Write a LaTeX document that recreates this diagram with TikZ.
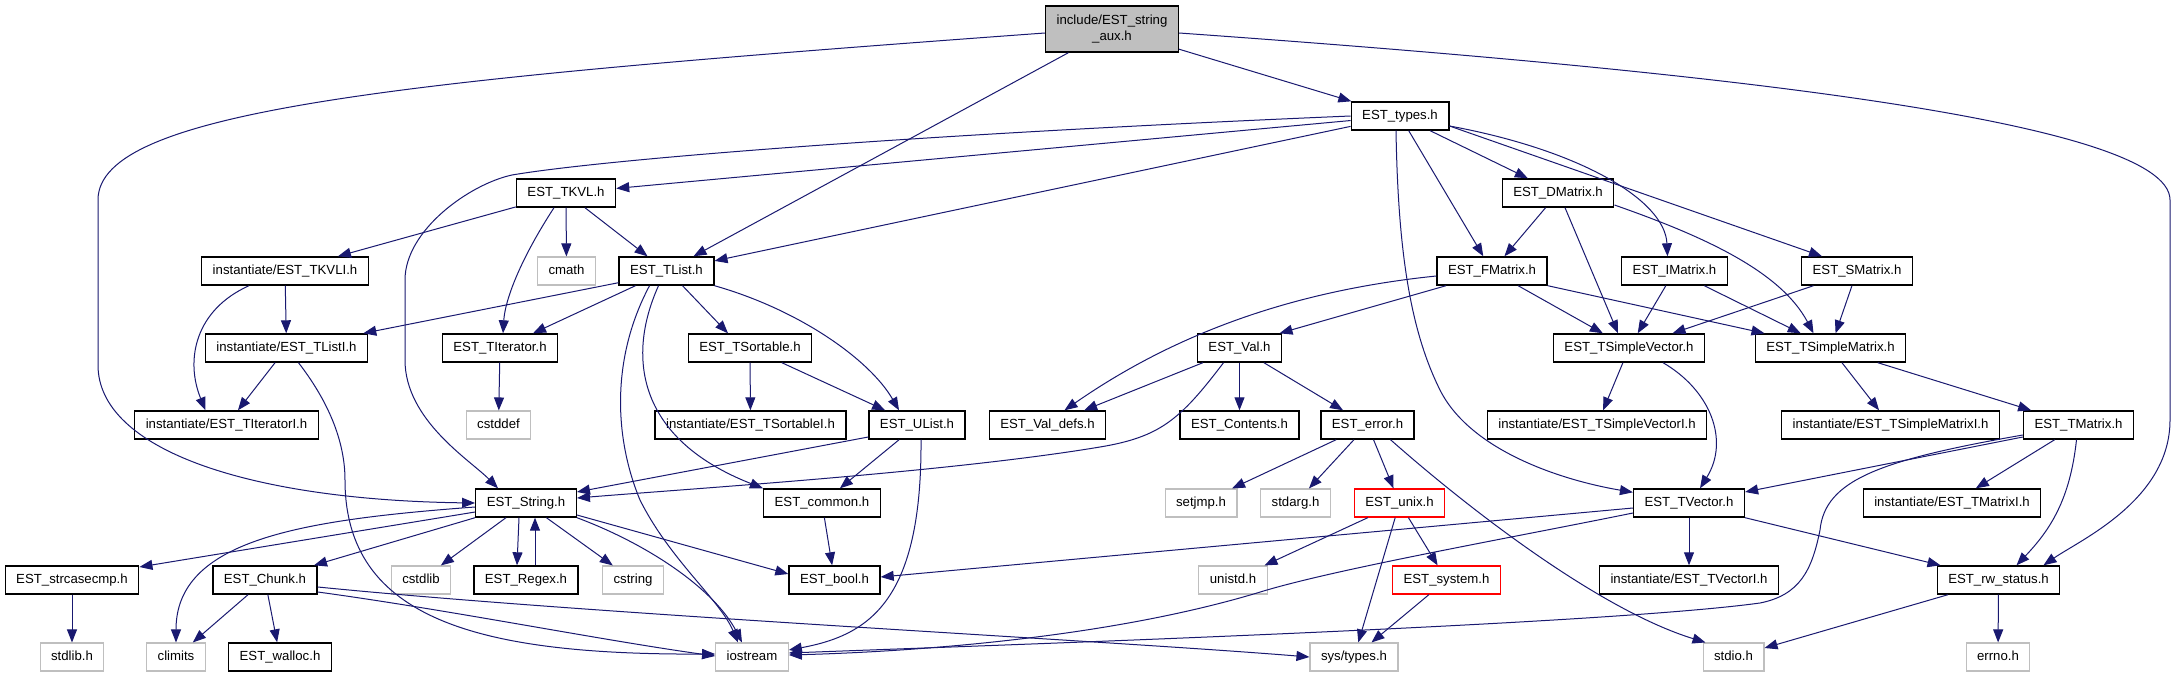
\documentclass[tikz,border=0pt]{standalone}
\usepackage{fontspec}
\setmainfont{Liberation Sans}
\usepackage{xcolor}
\usepackage{tikz}
\usetikzlibrary{positioning, arrows.meta}
\definecolor{edgeblue}{HTML}{191970}
\definecolor{sysgray}{HTML}{BFBFBF}
\definecolor{warnred}{HTML}{FF0000}

\tikzset{
    filebox/.style={draw=black, line width=1.4pt, fill=white,
        inner xsep=11pt, inner ysep=0pt, minimum height=28pt,
        text height=9.6pt, text depth=2.8pt,
        font=\fontsize{13.2}{16}\selectfont},
    sysbox/.style={filebox, draw=sysgray, line width=1.1pt},
    redbox/.style={filebox, draw=warnred, line width=1.2pt},
    rootbox/.style={draw=black, line width=1.4pt, fill=sysgray,
        inner xsep=11pt, minimum height=46pt, align=center,
        font=\fontsize{13.2}{16}\selectfont},
    dep/.style={draw=edgeblue, line width=1pt,
        -{Triangle[length=13pt, width=10pt]}},
}

\begin{document}
\begin{tikzpicture}[x=1pt, y=-1pt]
    \path[use as bounding box, fill=white] (0,0) rectangle (2176,677);

    \node[rootbox] (stringaux) at (1112,29) {include/EST\_string\\\_aux.h};
    \node[filebox] (types) at (1400,116) {EST\_types.h};
    \node[filebox] (tkvl) at (566,193) {EST\_TKVL.h};
    \node[filebox] (dmatrix) at (1558,193) {EST\_DMatrix.h};
    \node[filebox] (tkvli) at (285,271) {instantiate/EST\_TKVLI.h};
    \node[sysbox] (cmath) at (566.5,271) {cmath};
    \node[filebox] (tlist) at (666.5,271) {EST\_TList.h};
    \node[filebox] (fmatrix) at (1492,271) {EST\_FMatrix.h};
    \node[filebox] (imatrix) at (1674.5,271) {EST\_IMatrix.h};
    \node[filebox] (smatrix) at (1857,271) {EST\_SMatrix.h};
    \node[filebox] (tlisti) at (286.5,348) {instantiate/EST\_TListI.h};
    \node[filebox] (titerator) at (500,348) {EST\_TIterator.h};
    \node[filebox] (tsortable) at (750,348) {EST\_TSortable.h};
    \node[filebox] (val) at (1239.5,348) {EST\_Val.h};
    \node[filebox] (tsvector) at (1629,348) {EST\_TSimpleVector.h};
    \node[filebox] (tsmatrix) at (1830.5,348) {EST\_TSimpleMatrix.h};
    \node[filebox] (titeratori) at (226.5,425) {instantiate/EST\_TIteratorI.h};
    \node[sysbox] (cstddef) at (498.5,425) {cstddef};
    \node[filebox] (tsortablei) at (750.5,425) {instantiate/EST\_TSortableI.h};
    \node[filebox] (ulist) at (917,425) {EST\_UList.h};
    \node[filebox] (valdefs) at (1047.5,425) {EST\_Val\_defs.h};
    \node[filebox] (contents) at (1239.5,425) {EST\_Contents.h};
    \node[filebox] (error) at (1367.5,425) {EST\_error.h};
    \node[filebox] (tsvectori) at (1597,425) {instantiate/EST\_TSimpleVectorI.h};
    \node[filebox] (tsmatrixi) at (1890.5,425) {instantiate/EST\_TSimpleMatrixI.h};
    \node[filebox] (tmatrix) at (2078.5,425) {EST\_TMatrix.h};
    \node[filebox] (string) at (526,503) {EST\_String.h};
    \node[filebox] (common) at (822,503) {EST\_common.h};
    \node[sysbox] (setjmp) at (1201,503) {setjmp.h};
    \node[sysbox] (stdarg) at (1295.5,503) {stdarg.h};
    \node[redbox] (unix) at (1399.5,503) {EST\_unix.h};
    \node[filebox] (tvector) at (1689,503) {EST\_TVector.h};
    \node[filebox] (tmatrixi) at (1952,503) {instantiate/EST\_TMatrixI.h};
    \node[filebox] (strcasecmp) at (72,580) {EST\_strcasecmp.h};
    \node[filebox] (chunk) at (265,580) {EST\_Chunk.h};
    \node[sysbox] (cstdlib) at (421,580) {cstdlib};
    \node[filebox] (regex) at (526,580) {EST\_Regex.h};
    \node[sysbox] (cstring) at (633,580) {cstring};
    \node[filebox] (bool) at (834.5,580) {EST\_bool.h};
    \node[sysbox] (unistd) at (1233,580) {unistd.h};
    \node[redbox] (system) at (1446.5,580) {EST\_system.h};
    \node[filebox] (tvectori) at (1689,580) {instantiate/EST\_TVectorI.h};
    \node[filebox] (rwstatus) at (1998.5,580) {EST\_rw\_status.h};
    \node[sysbox] (stdlibh) at (72,657) {stdlib.h};
    \node[sysbox] (climits) at (176,657) {climits};
    \node[filebox] (walloc) at (280,657) {EST\_walloc.h};
    \node[sysbox] (iostream) at (752,657) {iostream};
    \node[sysbox] (systypes) at (1354,657) {sys/types.h};
    \node[sysbox] (stdio) at (1733.5,657) {stdio.h};
    \node[sysbox] (errno) at (1998,657) {errno.h};

    \draw[dep] (stringaux) -- (types);
    \draw[dep] (stringaux) -- (tlist);
    \draw[dep] ([yshift=-4pt]stringaux.west) .. controls (400,80) and (98,110) .. (98,200)
        -- (98,365) .. controls (98,450) and (250,500) .. (string.west);
    \draw[dep] ([yshift=-4pt]stringaux.east) .. controls (1700,70) and (2170,120) .. (2170,200)
        -- (2170,420) .. controls (2170,500) and (2080,540) .. ([xshift=45pt]rwstatus.north);

    \draw[dep] (types) -- (tkvl);
    \draw[dep] (types) -- (tlist);
    \draw[dep] (types.west) .. controls (900,135) and (600,160) .. (512,175)
        .. controls (470,184) and (405,230) .. (405,280) -- (405,360)
        .. controls (405,420) and (470,460) .. ([xshift=-28pt]string.north);
    \draw[dep] (types) -- (dmatrix);
    \draw[dep] (types) -- (fmatrix);
    \draw[dep] ([yshift=-10pt]types.east) .. controls (1580,150) and (1665,200) .. ([xshift=-7pt]imatrix.north);
    \draw[dep] ([yshift=-10pt]types.east) -- ([xshift=-35pt]smatrix.north);
    \draw[dep] ([xshift=-4pt]types.south) .. controls (1398,250) and (1410,330) .. (1440,390)
        .. controls (1470,450) and (1560,480) .. ([yshift=-4pt]tvector.north west);

    \draw[dep] (tkvl) -- (tkvli);
    \draw[dep] (tkvl) -- (cmath);
    \draw[dep] (tkvl) -- (tlist);
    \draw[dep] ([xshift=-12pt]tkvl.south) .. controls (520,260) and (505,300) .. ([xshift=3pt]titerator.north);

    \draw[dep] (tkvli) -- (tlisti);
    \draw[dep] ([xshift=-36pt]tkvli.south) .. controls (195,310) and (185,360) .. ([xshift=-21pt]titeratori.north);

    \draw[dep] ([yshift=3pt]tlist.south west) -- ([xshift=-5pt]tlisti.north east);
    \draw[dep] ([xshift=-31pt]tlist.south) -- ([xshift=33pt]titerator.north);
    \draw[dep] ([xshift=16pt]tlist.south) -- ([xshift=-22pt]tsortable.north);
    \draw[dep] (tlist.south east) .. controls (800,310) and (870,360) .. ([xshift=-18pt]ulist.north);
    \draw[dep] ([xshift=-8pt]tlist.south) .. controls (625,360) and (640,440) .. (common.north west);
    \draw[dep] ([xshift=-17pt]tlist.south) .. controls (610,360) and (615,440) .. (640,500)
        .. controls (670,560) and (720,600) .. ([xshift=-14pt]iostream.north);

    \draw[dep] (tlisti) -- (titeratori);
    \draw[dep] ([xshift=12pt]tlisti.south) .. controls (335,410) and (345,450) .. (345,480)
        .. controls (345,620) and (480,655) .. ([yshift=3pt]iostream.west);
    \draw[dep] (titerator) -- (cstddef);

    \draw[dep] (tsortable) -- (tsortablei);
    \draw[dep] (tsortable) -- (ulist);

    \draw[dep] ([yshift=-12pt]ulist.west) -- ([yshift=11pt]string.east);
    \draw[dep] (ulist) -- (common);
    \draw[dep] ([xshift=4pt]ulist.south) .. controls (922,600) and (870,635) .. ([yshift=7pt]iostream.east);

    \draw[dep] (val) -- (valdefs);
    \draw[dep] (val) -- (contents);
    \draw[dep] (val) -- (error);
    \draw[dep] ([xshift=-16pt]val.south) .. controls (1180,420) and (1160,437) .. (1100,447)
        .. controls (950,472) and (700,488) .. ([yshift=5pt]string.east);

    \draw[dep] ([xshift=-46pt]fmatrix.south) -- ([xshift=40pt]val.north);
    \draw[dep] ([yshift=-5pt]fmatrix.west) .. controls (1300,290) and (1180,330) .. ([xshift=17pt]valdefs.north);
    \draw[dep] (fmatrix) -- (tsvector);
    \draw[dep] (fmatrix.south east) -- ([xshift=-66pt]tsmatrix.north);

    \draw[dep] (dmatrix) -- (fmatrix);
    \draw[dep] ([xshift=7pt]dmatrix.south) -- ([xshift=-11pt]tsvector.north);
    \draw[dep] ([yshift=-12pt]dmatrix.east) .. controls (1700,235) and (1780,270) .. ([xshift=-17pt]tsmatrix.north);

    \draw[dep] (imatrix) -- (tsvector);
    \draw[dep] (imatrix) -- (tsmatrix);
    \draw[dep] (smatrix) -- (tsvector);
    \draw[dep] (smatrix) -- (tsmatrix);

    \draw[dep] (tsvector) -- (tsvectori);
    \draw[dep] ([xshift=34pt]tsvector.south) .. controls (1710,390) and (1730,440) .. ([xshift=11pt]tvector.north);
    \draw[dep] (tsmatrix) -- (tsmatrixi);
    \draw[dep] (tsmatrix) -- (tmatrix);

    \draw[dep] ([yshift=-12pt]tmatrix.west) -- ([yshift=11pt]tvector.east);
    \draw[dep] ([yshift=-10pt]tmatrix.west) .. controls (1880,460) and (1825,480) .. (1820,530)
        .. controls (1812,570) and (1800,595) .. (1760,603)
        .. controls (1600,625) and (1000,645) .. ([yshift=4pt]iostream.east);
    \draw[dep] (tmatrix) -- (tmatrixi);
    \draw[dep] ([xshift=-2pt]tmatrix.south) .. controls (2070,500) and (2050,530) .. ([xshift=18pt]rwstatus.north);

    \draw[dep] (tvector) -- (tvectori);
    \draw[dep] (tvector.south east) -- ([xshift=-58pt]rwstatus.north);
    \draw[dep] ([yshift=-5pt]tvector.west) -- ([yshift=3pt]bool.east);
    \draw[dep] ([yshift=-10pt]tvector.west) .. controls (1500,540) and (1330,570) .. (1257,593)
        .. controls (1100,640) and (900,652) .. ([yshift=2pt]iostream.east);

    \draw[dep] (error) -- (setjmp);
    \draw[dep] (error) -- (stdarg);
    \draw[dep] (error) -- (unix);
    \draw[dep] ([xshift=23pt]error.south) .. controls (1470,510) and (1600,610) .. ([xshift=-28pt]stdio.north);

    \draw[dep] (unix) -- (unistd);
    \draw[dep] (unix) -- (systypes);
    \draw[dep] (unix) -- (system);
    \draw[dep] (system) -- (systypes);

    \draw[dep] (rwstatus) -- (stdio);
    \draw[dep] (rwstatus) -- (errno);

    \draw[dep] ([yshift=-9pt]string.west) -- ([yshift=13pt]strcasecmp.east);
    \draw[dep] ([yshift=-4pt]string.west) .. controls (300,520) and (176,540) .. (climits.north);
    \draw[dep] (string.south west) -- ([xshift=49pt]chunk.north);
    \draw[dep] (string) -- (cstdlib);
    \draw[dep] ([xshift=-7pt]string.south) -- ([xshift=-9pt]regex.north);
    \draw[dep] ([xshift=9pt]regex.north) -- ([xshift=9pt]string.south);
    \draw[dep] (string) -- (cstring);
    \draw[dep] ([yshift=-12pt]string.east) -- ([yshift=6pt]bool.west);
    \draw[dep] (string.south east) .. controls (650,545) and (715,590) .. ([xshift=-10pt]iostream.north);

    \draw[dep] (common) -- (bool);

    \draw[dep] (strcasecmp) -- (stdlibh);
    \draw[dep] (chunk) -- (climits);
    \draw[dep] (chunk) -- (walloc);
    \draw[dep] ([yshift=-12pt]chunk.east) .. controls (450,610) and (600,640) .. ([yshift=1pt]iostream.west);
    \draw[dep] ([yshift=-7pt]chunk.east) .. controls (600,615) and (1100,640) .. (systypes.west);
\end{tikzpicture}
\end{document}
